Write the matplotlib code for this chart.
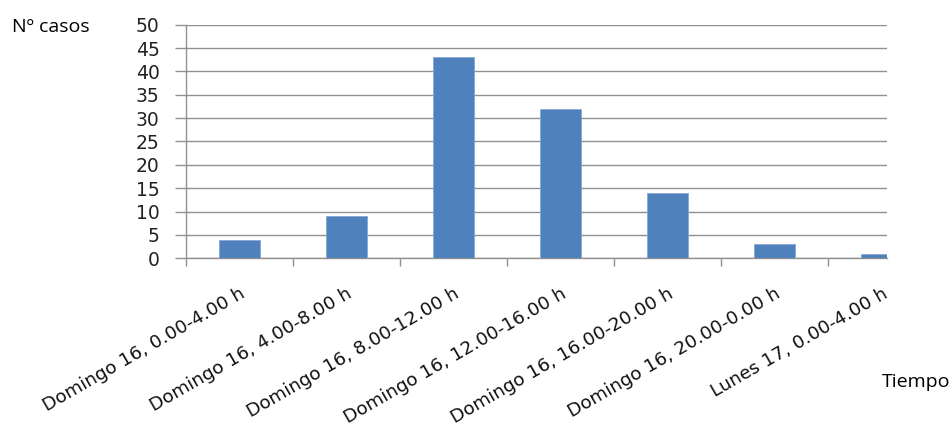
import matplotlib
matplotlib.use("Agg")
import matplotlib.pyplot as plt
import numpy as np

# casos por franja horaria
franjas = ["Domingo 16, 0.00-4.00 h",
           "Domingo 16, 4.00-8.00 h",
           "Domingo 16, 8.00-12.00 h",
           "Domingo 16, 12.00-16.00 h",
           "Domingo 16, 16.00-20.00 h",
           "Domingo 16, 20.00-0.00 h",
           "Lunes 17, 0.00-4.00 h"]
casos = [4, 9, 43, 32, 14, 3, 1]
yticks = list(range(0, 55, 5))

gris = "#909090"
azul = "#4f81bd"

fig = plt.figure(figsize=(9.52, 4.28), dpi=100)
ax = fig.add_axes([0.1954, 0.3965, 0.7363, 0.5458])

x = np.arange(len(casos))
ax.bar(x, casos, width=0.39, color=azul, edgecolor="#86a8d6", linewidth=0.6,
       zorder=3, clip_on=True)

ax.set_ylim(0, 50)
ax.set_xlim(-0.5, 6.05)
ax.set_yticks(yticks)
ax.set_yticklabels([str(v) for v in yticks], fontsize=13.5, family="DejaVu Sans",
                   color="#222222")
ax.yaxis.grid(True, color=gris, linewidth=1.0, zorder=0)
ax.tick_params(axis="y", length=8, width=1.0, color=gris, pad=11)

# etiquetas en el centro, marcas entre categorias
ax.set_xticks(x)
ax.set_xticklabels(franjas, rotation=30, ha="right", va="top",
                   rotation_mode="anchor", fontsize=13.2, family="DejaVu Sans",
                   color="#111111")
ax.tick_params(axis="x", which="major", length=0, pad=19)
ax.set_xticks(np.arange(-0.5, 6.0, 1.0), minor=True)
ax.tick_params(axis="x", which="minor", length=6, width=1.0, color=gris)

for s in ["top", "right"]:
    ax.spines[s].set_visible(False)
ax.spines["left"].set_color(gris)
ax.spines["left"].set_linewidth(1.0)
ax.spines["bottom"].set_color(gris)
ax.spines["bottom"].set_linewidth(1.0)
ax.set_axisbelow(True)

fig.text(12 / 952, 1 - 27 / 428, "Nº casos", fontsize=14, family="Open Sans",
         va="center", ha="left")
fig.text(950 / 952, 1 - 382 / 428, "Tiempo", fontsize=14, family="Open Sans",
         va="center", ha="right")

fig.savefig("out.png", dpi=100)
